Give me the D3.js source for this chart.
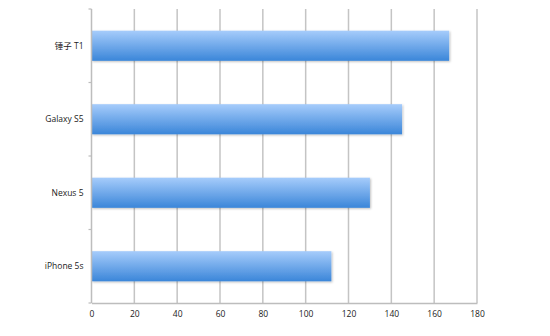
<!DOCTYPE html>
<html>
<head>
<meta charset="utf-8">
<script src="https://cdn.jsdelivr.net/npm/d3@7"></script>
<style>
  body { margin: 0; background: #fff; }
  text { font-family: "Open Sans", "Noto Sans CJK SC", sans-serif; font-size: 8.5px; fill: #222; }
</style>
</head>
<body>
<svg width="550" height="336"></svg>
<script>
// data
const phones = ["锤子 T1", "Galaxy S5", "Nexus 5", "iPhone 5s"];
const scores = [167, 145, 130, 112];
const xTicks = [0, 20, 40, 60, 80, 100, 120, 140, 160, 180];

const svg = d3.select("svg");
const margin = { top: 9, right: 73, bottom: 33, left: 91.5 };
const width = 550 - margin.left - margin.right,
  height = 336 - margin.top - margin.bottom;

const x = d3.scaleLinear().domain([0, 180]).range([0, width]);
const y = d3.scaleBand().domain(phones).range([0, height]).paddingInner(0.59).paddingOuter(0.295);
const band = d3.scaleBand().domain(phones).range([0, height]);

// gradient + shadow for bars
const defs = svg.append("defs");
const grad = defs.append("linearGradient")
  .attr("id", "barGrad")
  .attr("x1", 0).attr("y1", 0).attr("x2", 0).attr("y2", 1);
grad.append("stop").attr("offset", "0%").attr("stop-color", "#a6ccfb");
grad.append("stop").attr("offset", "100%").attr("stop-color", "#3b86d9");

const shadow = defs.append("filter").attr("id", "shadow")
  .attr("x", "-10%").attr("y", "-20%").attr("width", "130%").attr("height", "160%");
shadow.append("feDropShadow")
  .attr("dx", 1).attr("dy", 1).attr("stdDeviation", 1)
  .attr("flood-color", "#000").attr("flood-opacity", 0.25);

const g = svg.append("g").attr("transform", `translate(${margin.left},${margin.top})`);

// vertical gridlines
g.append("g")
  .selectAll("line")
  .data(xTicks.slice(1))
  .join("line")
  .attr("x1", d => x(d)).attr("x2", d => x(d))
  .attr("y1", 0).attr("y2", height)
  .attr("stroke", "#c4c4c4")
  .attr("stroke-width", 1.5);

// bars
g.append("g")
  .selectAll("rect")
  .data(phones)
  .join("rect")
  .attr("x", 0)
  .attr("y", d => y(d))
  .attr("width", (d, i) => x(scores[i]))
  .attr("height", y.bandwidth())
  .attr("fill", "url(#barGrad)")
  .attr("filter", "url(#shadow)");

// x axis
const xAxis = g.append("g")
  .attr("transform", `translate(0,${height})`)
  .call(d3.axisBottom(x).tickValues(xTicks).tickSize(0).tickPadding(8));
xAxis.select(".domain").attr("stroke", "#bdbdbd").attr("stroke-width", 1.5);

// y axis: line + ticks at band edges
g.append("line")
  .attr("x1", 0).attr("x2", 0).attr("y1", 0).attr("y2", height)
  .attr("stroke", "#bdbdbd").attr("stroke-width", 1.5);
g.append("g")
  .selectAll("line")
  .data(phones.map(d => band(d)).concat([height]))
  .join("line")
  .attr("x1", -3).attr("x2", 0)
  .attr("y1", d => d).attr("y2", d => d)
  .attr("stroke", "#bdbdbd").attr("stroke-width", 1.2);

g.append("g")
  .selectAll("text")
  .data(phones)
  .join("text")
  .attr("x", -8)
  .attr("y", d => y(d) + y.bandwidth() / 2)
  .attr("dy", "0.35em")
  .attr("text-anchor", "end")
  .text(d => d);
</script>
</body>
</html>
